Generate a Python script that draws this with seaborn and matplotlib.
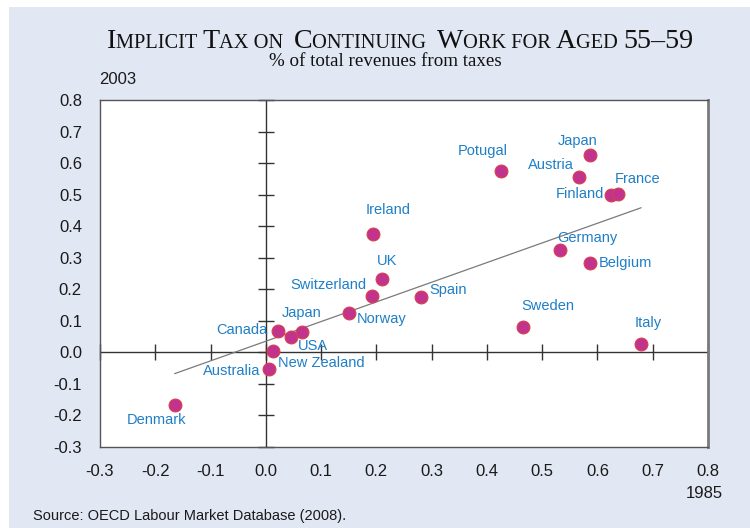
import matplotlib
matplotlib.use('Agg')
import matplotlib.pyplot as plt
from matplotlib.patches import Rectangle
import seaborn as sns
import pandas as pd
import numpy as np

# data: implicit tax 1985 (x) vs 2003 (y)
countries = ['Denmark', 'Australia', 'New Zealand', 'Canada', 'USA', 'Japan', 'Norway',
             'Switzerland', 'UK', 'Ireland', 'Spain', 'Potugal', 'Sweden', 'Germany',
             'Belgium', 'Austria', 'Japan ', 'Finland', 'France', 'Italy']
tax_1985 = [-0.165, 0.005, 0.013, 0.022, 0.045, 0.065, 0.151, 0.192, 0.21, 0.194,
            0.281, 0.425, 0.465, 0.532, 0.586, 0.566, 0.586, 0.624, 0.637, 0.679]
tax_2003 = [-0.167, -0.054, 0.003, 0.067, 0.048, 0.064, 0.124, 0.178, 0.232, 0.375,
            0.175, 0.575, 0.08, 0.324, 0.283, 0.556, 0.626, 0.5, 0.502, 0.025]
ticks = [-0.3, -0.2, -0.1, 0.0, 0.1, 0.2, 0.3, 0.4, 0.5, 0.6, 0.7, 0.8]
yticks = [-0.3, -0.2, -0.1, 0.0, 0.1, 0.2, 0.3, 0.4, 0.5, 0.6, 0.7, 0.8]

df = pd.DataFrame({'country': countries, 'x': tax_1985, 'y': tax_2003})

# label placement (pixel offsets from the point, horizontal alignment)
label_pos = {
    'Denmark': (-18, -15, 'center'), 'Australia': (-8, -2, 'right'),
    'New Zealand': (5, -12, 'left'), 'Canada': (-10, 1, 'right'),
    'USA': (7, -9, 'left'), 'Japan': (0, 19, 'center'), 'Norway': (7, -6, 'left'),
    'Switzerland': (-5, 11, 'right'), 'UK': (5, 18, 'center'),
    'Ireland': (15, 24, 'center'), 'Spain': (8, 7, 'left'),
    'Potugal': (-18, 20, 'center'), 'Sweden': (25, 21, 'center'),
    'Germany': (28, 12, 'center'), 'Belgium': (9, 0, 'left'),
    'Austria': (-28, 12, 'center'), 'Japan ': (-12, 14, 'center'),
    'Finland': (-7, 1, 'right'), 'France': (20, 15, 'center'), 'Italy': (7, 21, 'center'),
}

sns.set_theme(style='white')
plt.rcParams['font.family'] = ['Liberation Sans', 'DejaVu Sans']

bg = '#e1e7f3'
fig = plt.figure(figsize=(7.5, 5.28), dpi=100)
fig.patches.append(Rectangle((9 / 750, 0), 1, 1 - 7 / 528, transform=fig.transFigure,
                             facecolor=bg, edgecolor='none', zorder=-10))
ax = fig.add_axes([100 / 750, 1 - 447 / 528, 608 / 750, 347 / 528])
ax.set_facecolor('white')

sns.regplot(data=df, x='x', y='y', ax=ax, ci=None, scatter=False, truncate=True,
            line_kws={'color': '#7a7a7a', 'lw': 0.9, 'zorder': 2})
sns.scatterplot(data=df, x='x', y='y', ax=ax, s=85, color='#c2338e',
                edgecolor='#d8404a', linewidth=0.8, zorder=4)

for c, xv, yv in zip(countries, tax_1985, tax_2003):
    dx, dy, ha = label_pos[c]
    ax.annotate(c.strip(), (xv, yv), xytext=(dx, dy), textcoords='offset pixels',
                ha=ha, va='center', fontsize=10.5, color='#1f7fc6', zorder=5)

# crosshair axes with tick marks
ax.axhline(0, color='#333333', lw=1.0, zorder=1)
ax.axvline(0, color='#333333', lw=1.0, zorder=1)
ax.plot(ticks, np.zeros(len(ticks)), ls='none', marker='|', ms=11, mew=1.0,
        color='#333333', zorder=1, clip_on=False)
ax.plot(np.zeros(len(yticks)), yticks, ls='none', marker='_', ms=11, mew=1.0,
        color='#333333', zorder=1, clip_on=False)

ax.set_xlim(-0.3, 0.8)
ax.set_ylim(-0.3, 0.8)
ax.set_xticks(ticks)
ax.set_yticks(yticks)
ax.set_xticklabels([f'{t:.1f}' for t in ticks])
ax.set_yticklabels([f'{t:.1f}' for t in yticks])
ax.tick_params(length=0, labelsize=12, colors='#1a1a1a')
ax.tick_params(axis='x', pad=12)
ax.tick_params(axis='y', pad=13)
ax.set_xlabel('')
ax.set_ylabel('')
for s in ax.spines.values():
    s.set_visible(True)
    s.set_color('#555555')
    s.set_linewidth(1.0)
ax.spines['right'].set_color('#7a7a7a')
ax.spines['right'].set_linewidth(2.0)

fig.text(118 / 750, 1 - 80 / 528, '2003', ha='center', va='center', fontsize=12, color='#1a1a1a')
fig.text(723 / 750, 1 - 494 / 528, '1985', ha='right', va='center', fontsize=12, color='#1a1a1a')
fig.text(33 / 750, 1 - 516 / 528, 'Source: OECD Labour Market Database (2008).',
         ha='left', va='center', fontsize=10.5, color='#1a1a1a')

# small-caps title built from pieces
pieces = [('I', 1), ('MPLICIT ', 0), ('T', 1), ('AX ON  ', 0), ('C', 1), ('ONTINUING  ', 0),
          ('W', 1), ('ORK FOR ', 0), ('A', 1), ('GED ', 0), ('55–59', 1)]
big, small = 20.2, 14.7
renderer = fig.canvas.get_renderer()
texts = []
widths = []
for s, is_big in pieces:
    t = fig.text(0, 1 - 48 / 528, s, fontsize=big if is_big else small,
                 family='Liberation Serif', va='baseline', ha='left', color='#111111')
    w = t.get_window_extent(renderer).width
    texts.append(t)
    widths.append(w)
total = sum(widths)
x0 = (400 - total / 2)
for t, w in zip(texts, widths):
    t.set_x(x0 / 750)
    x0 += w
fig.text(385 / 750, 1 - 61 / 528, '% of total revenues from taxes', ha='center', va='center',
         fontsize=13.7, family='Liberation Serif', color='#111111')

fig.savefig('out.png', dpi=100)
